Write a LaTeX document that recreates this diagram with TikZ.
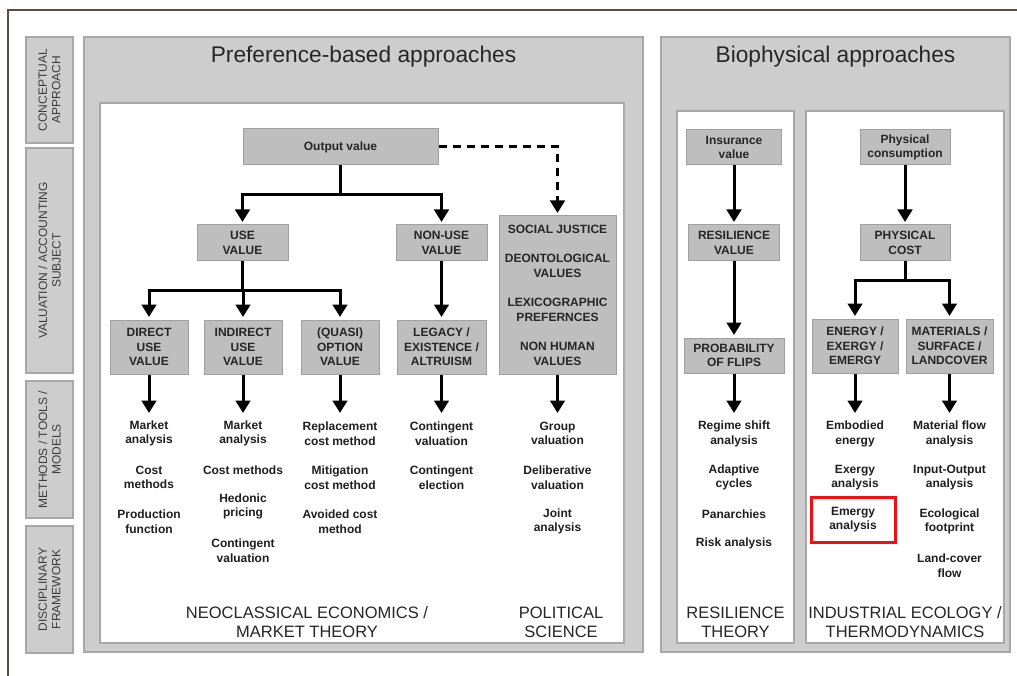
\documentclass[tikz,border=0pt]{standalone}
\usepackage{fontspec}
\setmainfont{Liberation Sans}
\usetikzlibrary{arrows.meta,calc}
\definecolor{panel}{HTML}{CDCDCD}
\definecolor{paneledge}{HTML}{A8A8A8}
\definecolor{boxfill}{HTML}{BEBEBE}
\definecolor{boxedge}{HTML}{A0A0A0}
\definecolor{framec}{HTML}{5E4B40}
\definecolor{labtext}{HTML}{3C3C3C}
\definecolor{emred}{HTML}{EE1111}
\begin{document}
\begin{tikzpicture}[x=1pt,y=-1pt,
  panelbox/.style={fill=panel,draw=paneledge,line width=1.5pt},
  innerbox/.style={fill=white,draw=paneledge,line width=1.5pt},
  sidelabel/.style={rotate=90,fill=panel,draw=paneledge,line width=1.2pt,minimum height=47pt,inner sep=0pt,align=center,text=labtext,font=\fontsize{12}{13.5}\selectfont},
  vbox/.style={fill=boxfill,draw=boxedge,line width=1pt,inner sep=0pt,align=center,font=\bfseries\fontsize{12}{14.5}\selectfont,text=black!85},
  method/.style={align=center,inner sep=0pt,font=\bfseries\fontsize{12}{14.5}\selectfont,text=black!88},
  disc/.style={align=center,inner sep=0pt,font=\fontsize{16.5}{19}\selectfont,text=black!85},
  ttl/.style={inner sep=0pt,font=\fontsize{22.7}{26}\selectfont,text=black!85},
  arr/.style={line width=3pt,-{Triangle[width=14.5pt,length=12.5pt]}},
  boxarr/.style={arr,shorten >=2.5pt},
  dasharr/.style={boxarr,dash pattern=on 8pt off 6pt},
]
\useasboundingbox (0,0) rectangle (1017,676);
\fill[white] (0,0) rectangle (1017,676);
% outer frame
\draw[framec,line width=1.3pt] (1017,10) -- (8,10) -- (8,676);

% side labels
\node[sidelabel,minimum width=106pt] (l1) at (49.5,90) {CONCEPTUAL\\APPROACH};
\node[sidelabel,minimum width=225pt] (l2) at (49.5,260.5) {VALUATION / ACCOUNTING\\SUBJECT};
\node[sidelabel,minimum width=137pt] (l3) at (49.5,449.5) {METHODS / TOOLS /\\MODELS};
\node[sidelabel,minimum width=127pt] (l4) at (49.5,589.5) {DISCIPLINARY\\FRAMEWORK};

% panels
\draw[panelbox] (84,37) rectangle (643,652);
\draw[innerbox] (100,103) rectangle (624,643);
\draw[panelbox] (661,37) rectangle (1010,652);
\draw[innerbox] (677,111) rectangle (794,643);
\draw[innerbox] (806,111) rectangle (1004,643);

\node[ttl] (t1) at (363.5,57) {Preference-based approaches};
\node[ttl] (t2) at (835.5,57) {Biophysical approaches};

% preference boxes
\node[vbox,minimum width=195pt,minimum height=36pt] (out) at (340.5,147) {Output value};
\node[vbox,minimum width=91pt,minimum height=36pt] (use) at (242.5,243) {USE\\VALUE};
\node[vbox,minimum width=91pt,minimum height=36pt] (nonuse) at (441.5,243) {NON-USE\\VALUE};
\node[vbox,minimum width=78pt,minimum height=54pt] (direct) at (149,347) {DIRECT\\USE\\VALUE};
\node[vbox,minimum width=78pt,minimum height=54pt] (indirect) at (243,347) {INDIRECT\\USE\\VALUE};
\node[vbox,minimum width=78pt,minimum height=54pt] (quasi) at (340,347) {(QUASI)\\OPTION\\VALUE};
\node[vbox,minimum width=89pt,minimum height=54pt] (legacy) at (441.5,347) {LEGACY /\\EXISTENCE /\\ALTRUISM};
\node[vbox,minimum width=117pt,minimum height=158pt] (social) at (557.5,295) {SOCIAL JUSTICE\\[15pt]DEONTOLOGICAL\\VALUES\\[15pt]LEXICOGRAPHIC\\PREFERNCES\\[15pt]NON HUMAN\\VALUES};

% biophysical boxes
\node[vbox,minimum width=95pt,minimum height=35pt] (insur) at (734,147.5) {Insurance\\value};
\node[vbox,minimum width=91pt,minimum height=36pt] (resil) at (734,243) {RESILIENCE\\VALUE};
\node[vbox,minimum width=100pt,minimum height=35pt] (prob) at (734,355.5) {PROBABILITY\\OF FLIPS};
\node[vbox,minimum width=90pt,minimum height=35pt] (pcons) at (905,147.5) {Physical\\consumption};
\node[vbox,minimum width=90pt,minimum height=36pt] (pcost) at (905,243) {PHYSICAL\\COST};
\node[vbox,minimum width=86pt,minimum height=54pt] (energy) at (855,346) {ENERGY /\\EXERGY /\\EMERGY};
\node[vbox,minimum width=87pt,minimum height=54pt] (mater) at (949.5,346) {MATERIALS /\\SURFACE /\\LANDCOVER};

% tree connectors
\coordinate (j1) at ($(out.south)+(0,29)$);
\draw[line width=3pt] (out.south) -- (j1);
\draw[boxarr] (j1) -| (use.north);
\draw[boxarr] (j1) -| (nonuse.north);
\draw[dasharr] (out.east) -| (social.north);
\coordinate (j2) at ($(use.south)+(0,29)$);
\draw[line width=3pt] (use.south) -- (j2);
\draw[boxarr] (j2) -| (direct.north);
\draw[boxarr] (j2) -| (indirect.north);
\draw[boxarr] (j2) -| (quasi.north);
\draw[boxarr] (nonuse.south) -- (legacy.north);
\draw[boxarr] (insur.south) -- (resil.north);
\draw[boxarr] (resil.south) -- (prob.north);
\draw[boxarr] (pcons.south) -- (pcost.north);
\coordinate (j3) at ($(pcost.south)+(0,19)$);
\draw[line width=3pt] (pcost.south) -- (j3);
\draw[boxarr] (j3) -| (energy.north);
\draw[boxarr] (j3) -| (mater.north);

% arrows to methods
\coordinate (tip) at (0,413);
\foreach \b in {direct,indirect,quasi,legacy,social,prob,energy,mater}
  \draw[arr] (\b.south) -- (\b.south |- tip);

% methods
\node[method] (d1) at (149,433.5) {Market\\analysis};
\node[method] (d2) at (149,477.5) {Cost\\methods};
\node[method] (d3) at (149,521.5) {Production\\function};
\node[method] (i1) at (243,433.5) {Market\\analysis};
\node[method] (i2) at (243,470) {Cost methods};
\node[method] (i3) at (243,506.5) {Hedonic\\pricing};
\node[method] (i4) at (243,550.5) {Contingent\\valuation};
\node[method] (q1) at (340,433.5) {Replacement\\cost method};
\node[method] (q2) at (340,477.5) {Mitigation\\cost method};
\node[method] (q3) at (340,521.5) {Avoided cost\\method};
\node[method] (g1) at (441.5,433.5) {Contingent\\valuation};
\node[method] (g2) at (441.5,477.5) {Contingent\\election};
\node[method] (s1) at (557.5,433.5) {Group\\valuation};
\node[method] (s2) at (557.5,477.5) {Deliberative\\valuation};
\node[method] (s3) at (557.5,521.5) {Joint\\analysis};
\node[method] (r1) at (734,434) {Regime shift\\analysis};
\node[method] (r2) at (734,477.5) {Adaptive\\cycles};
\node[method] (r3) at (734,514) {Panarchies};
\node[method] (r4) at (734,543) {Risk analysis};
\node[method] (e1) at (855,434) {Embodied\\energy};
\node[method] (e2) at (855,477.5) {Exergy\\analysis};
\node[method,draw=emred,line width=3pt,minimum width=84pt,minimum height=45pt] (e3) at (853,519.5) {Emergy\\analysis};
\node[method] (m1) at (949.5,434) {Material flow\\analysis};
\node[method] (m2) at (949.5,477.5) {Input-Output\\analysis};
\node[method] (m3) at (949.5,521.5) {Ecological\\footprint};
\node[method] (m4) at (949.5,565.5) {Land-cover\\flow};

% disciplines
\node[disc] (f1) at (307,622) {NEOCLASSICAL ECONOMICS /\\MARKET THEORY};
\node[disc] (f2) at (561,622) {POLITICAL\\SCIENCE};
\node[disc] (f3) at (735.5,622) {RESILIENCE\\THEORY};
\node[disc] (f4) at (905,622) {INDUSTRIAL ECOLOGY /\\THERMODYNAMICS};
\end{tikzpicture}
\end{document}
